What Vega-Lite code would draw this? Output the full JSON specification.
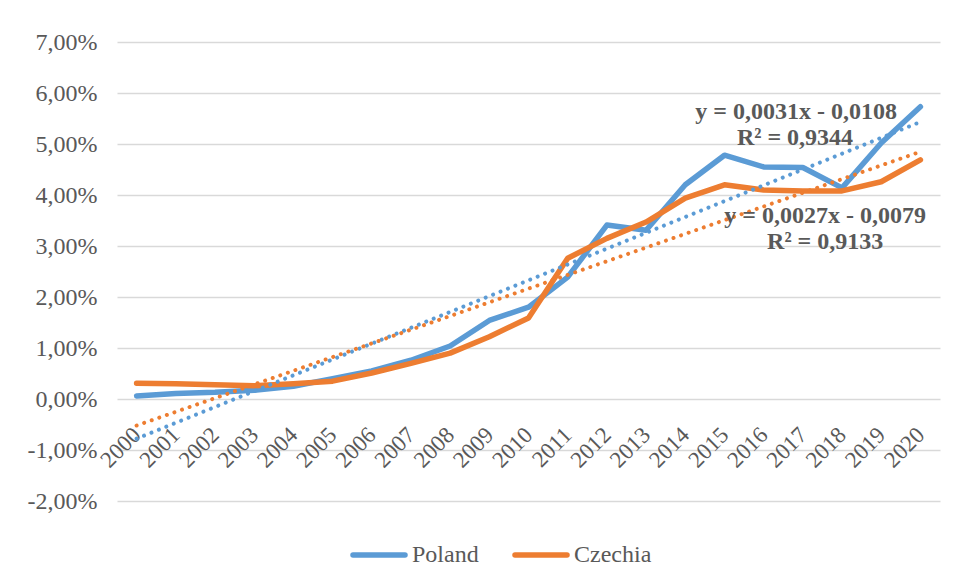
{
  "$schema": "https://vega.github.io/schema/vega-lite/v6.json",
  "width": 823,
  "height": 459,
  "autosize": {"type": "none"},
  "padding": {"left": 117, "top": 42, "right": 15, "bottom": 80},
  "background": "white",
  "config": {"view": {"stroke": null}, "font": "Liberation Serif"},
  "datasets": {
    "series": [
      {"year": 2000, "country": "Poland", "value": 0.0006},
      {"year": 2001, "country": "Poland", "value": 0.0011},
      {"year": 2002, "country": "Poland", "value": 0.0013},
      {"year": 2003, "country": "Poland", "value": 0.0017},
      {"year": 2004, "country": "Poland", "value": 0.0025},
      {"year": 2005, "country": "Poland", "value": 0.0040},
      {"year": 2006, "country": "Poland", "value": 0.0055},
      {"year": 2007, "country": "Poland", "value": 0.0076},
      {"year": 2008, "country": "Poland", "value": 0.0104},
      {"year": 2009, "country": "Poland", "value": 0.0154},
      {"year": 2010, "country": "Poland", "value": 0.0180},
      {"year": 2011, "country": "Poland", "value": 0.0239},
      {"year": 2012, "country": "Poland", "value": 0.0341},
      {"year": 2013, "country": "Poland", "value": 0.0331},
      {"year": 2014, "country": "Poland", "value": 0.0420},
      {"year": 2015, "country": "Poland", "value": 0.0478},
      {"year": 2016, "country": "Poland", "value": 0.0455},
      {"year": 2017, "country": "Poland", "value": 0.0454},
      {"year": 2018, "country": "Poland", "value": 0.0414},
      {"year": 2019, "country": "Poland", "value": 0.0502},
      {"year": 2020, "country": "Poland", "value": 0.0573},
      {"year": 2000, "country": "Czechia", "value": 0.0031},
      {"year": 2001, "country": "Czechia", "value": 0.0030},
      {"year": 2002, "country": "Czechia", "value": 0.0028},
      {"year": 2003, "country": "Czechia", "value": 0.0026},
      {"year": 2004, "country": "Czechia", "value": 0.0030},
      {"year": 2005, "country": "Czechia", "value": 0.0035},
      {"year": 2006, "country": "Czechia", "value": 0.0051},
      {"year": 2007, "country": "Czechia", "value": 0.0070},
      {"year": 2008, "country": "Czechia", "value": 0.0090},
      {"year": 2009, "country": "Czechia", "value": 0.0122},
      {"year": 2010, "country": "Czechia", "value": 0.0159},
      {"year": 2011, "country": "Czechia", "value": 0.0276},
      {"year": 2012, "country": "Czechia", "value": 0.0315},
      {"year": 2013, "country": "Czechia", "value": 0.0347},
      {"year": 2014, "country": "Czechia", "value": 0.0394},
      {"year": 2015, "country": "Czechia", "value": 0.0420},
      {"year": 2016, "country": "Czechia", "value": 0.0410},
      {"year": 2017, "country": "Czechia", "value": 0.0408},
      {"year": 2018, "country": "Czechia", "value": 0.0408},
      {"year": 2019, "country": "Czechia", "value": 0.0426},
      {"year": 2020, "country": "Czechia", "value": 0.0469}
    ],
    "notes": [
      {"label": "y = 0,0031x - 0,0108", "x": 2016.83, "y": 0.0563},
      {"label": "R² = 0,9344", "x": 2016.8, "y": 0.0512},
      {"label": "y = 0,0027x - 0,0079", "x": 2017.57, "y": 0.0359},
      {"label": "R² = 0,9133", "x": 2017.57, "y": 0.0308}
    ]
  },
  "layer": [
    {
      "data": {"name": "series"},
      "mark": {"type": "line", "strokeWidth": 5.5, "strokeCap": "round", "strokeJoin": "round"},
      "encoding": {
        "x": {
          "field": "year", "type": "quantitative",
          "scale": {"domain": [1999.5, 2020.5], "nice": false, "zero": false},
          "axis": {
            "values": [2000, 2001, 2002, 2003, 2004, 2005, 2006, 2007, 2008, 2009, 2010, 2011, 2012, 2013, 2014, 2015, 2016, 2017, 2018, 2019, 2020],
            "format": "d", "labelAngle": -45, "labelAlign": "right", "labelBaseline": "middle",
            "offset": -102, "grid": false, "domain": false, "ticks": false, "tickSize": 0,
            "labelPadding": 32, "labelFontSize": 23, "labelColor": "#595959", "labelFont": "Liberation Serif",
            "labelOverlap": false, "labelFlush": false, "labelBound": false, "title": null
          }
        },
        "y": {
          "field": "value", "type": "quantitative",
          "scale": {"domain": [-0.02, 0.07], "nice": false, "zero": false},
          "axis": {
            "values": [-0.02, -0.01, 0, 0.01, 0.02, 0.03, 0.04, 0.05, 0.06, 0.07],
            "labelExpr": "replace(replace(format(datum.value, '.2%'), '.', ','), '\u2212', '-')",
            "grid": true, "gridColor": "#d9d9d9", "gridWidth": 1.3,
            "domain": false, "ticks": false, "labelPadding": 20, "labelFontSize": 24,
            "labelColor": "#595959", "labelFont": "Liberation Serif", "title": null
          }
        },
        "color": {
          "field": "country", "type": "nominal",
          "scale": {"domain": ["Poland", "Czechia"], "range": ["#5B9BD5", "#ED7D31"]},
          "legend": {
            "orient": "none", "legendX": 233, "legendY": 484, "direction": "horizontal", "title": null,
            "symbolType": "stroke", "symbolSize": 2704, "symbolStrokeWidth": 5.5,
            "labelFontSize": 24, "labelFont": "Liberation Serif", "labelFontWeight": "normal", "labelColor": "#595959",
            "labelOffset": 4, "columnPadding": 25, "padding": 0,
            "encode": {"symbols": {"update": {"strokeCap": {"value": "round"}}}}
          }
        }
      }
    },
    {
      "data": {"name": "series"},
      "transform": [{"regression": "value", "on": "year", "groupby": ["country"], "extent": [2000, 2020]}],
      "mark": {"type": "line", "strokeWidth": 4, "strokeCap": "round", "strokeDash": [0.01, 8]},
      "encoding": {
        "x": {"field": "year", "type": "quantitative"},
        "y": {"field": "value", "type": "quantitative"},
        "stroke": {
          "field": "country", "type": "nominal",
          "scale": {"domain": ["Poland", "Czechia"], "range": ["#5B9BD5", "#ED7D31"]},
          "legend": null
        }
      }
    },
    {
      "data": {"name": "notes"},
      "mark": {"type": "text", "fontWeight": "bold", "fontSize": 24, "font": "Liberation Serif", "color": "#595959", "align": "center", "baseline": "middle"},
      "encoding": {
        "x": {"field": "x", "type": "quantitative"},
        "y": {"field": "y", "type": "quantitative"},
        "text": {"field": "label"}
      }
    }
  ]
}
